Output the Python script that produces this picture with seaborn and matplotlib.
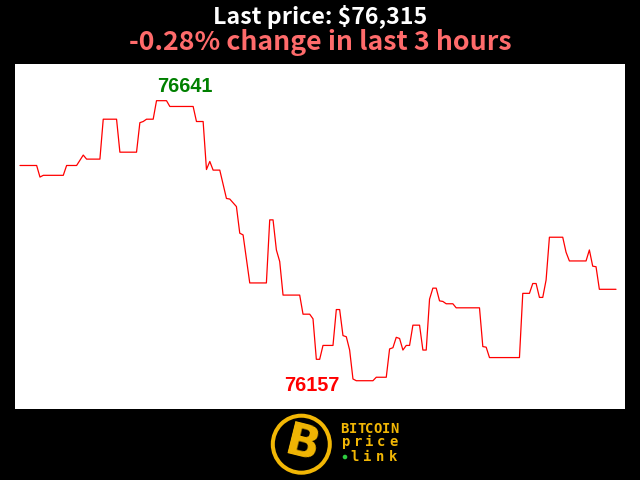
import matplotlib
matplotlib.use("Agg")
import matplotlib.pyplot as plt
from matplotlib.patches import Circle
import numpy as np
import pandas as pd
import seaborn as sns

# ---- data (minutes within the last 3 hours, price in USD) ----
minutes = [0, 5, 6, 7, 13, 14, 17, 19, 20, 24,
           25, 29, 30, 35, 36, 37, 38, 40, 41, 44,
           45, 52, 53, 55, 56, 57, 58, 60, 62, 63,
           65, 66, 67, 69, 74, 75, 76, 77, 78, 79,
           84, 85, 87, 88, 89, 90, 91, 94, 95, 96,
           97, 98, 99, 100, 101, 106, 107, 110, 111, 112,
           113, 114, 115, 116, 117, 118, 120, 121, 122, 123,
           124, 125, 126, 127, 128, 130, 131, 138, 139, 140,
           141, 150, 151, 153, 154, 155, 156, 157, 158, 159,
           163, 164, 165, 170, 171, 172, 173, 174, 179]
prices = [76529, 76529, 76509, 76512, 76512, 76529, 76529, 76547, 76540, 76540,
          76609, 76609, 76552, 76552, 76603, 76605, 76609, 76609, 76641, 76641,
          76631, 76631, 76605, 76605, 76522, 76536, 76521, 76521, 76472, 76471,
          76458, 76412, 76409, 76326, 76326, 76435, 76435, 76383, 76363, 76305,
          76305, 76272, 76272, 76264, 76194, 76194, 76218, 76218, 76280, 76280,
          76235, 76233, 76210, 76160, 76157, 76157, 76163, 76163, 76212, 76214,
          76232, 76230, 76210, 76218, 76218, 76253, 76253, 76210, 76210, 76298,
          76317, 76317, 76295, 76294, 76290, 76290, 76283, 76283, 76216, 76215,
          76197, 76197, 76308, 76308, 76325, 76325, 76301, 76301, 76331, 76405,
          76405, 76379, 76364, 76364, 76383, 76355, 76354, 76315, 76315]
hours = 3
logo_top = "BITCOIN"
logo_mid = "price"
logo_bot = "link"

sns.set_style("white")

GOLD = "#f2b705"
TITLE_FONT = ["Noto Sans CJK SC", "DejaVu Sans"]

fig = plt.figure(figsize=(6.4, 4.8), dpi=100, facecolor="black")
ax = fig.add_axes([15 / 640, 70.7 / 480, 610 / 640, 345.3 / 480])
ax.set_facecolor("white")

df = pd.DataFrame({"minute": minutes, "price": prices})
sns.lineplot(data=df, x="minute", y="price", color="#ff0000", linewidth=0.9, ax=ax)
ax.set_xlim(-1.5, 181.7)
ax.set_ylim(76107.6, 76704.4)
ax.set_xticks([])
ax.set_yticks([])
ax.set_xlabel("")
ax.set_ylabel("")
for s in ax.spines.values():
    s.set_visible(False)

imax = int(np.argmax(prices))
imin = int(np.argmin(prices))
ax.annotate(str(prices[imax]), xy=(minutes[imax], prices[imax]),
            xytext=(0.4, 6.5), textcoords="offset points",
            ha="left", va="baseline", color="#008000", fontsize=14.3,
            fontweight="bold", family="Liberation Sans")
ax.annotate(str(prices[imin]), xy=(minutes[imin], prices[imin]),
            xytext=(-52.3, -7.2), textcoords="offset points",
            ha="left", va="baseline", color="#ff0000", fontsize=14.3,
            fontweight="bold", family="Liberation Sans")

# ---- titles ----
last = prices[-1]
chg = (prices[-1] - prices[0]) / prices[0] * 100
t1 = fig.text(0.5, 1 - 24.3 / 480, f"Last price: ${last:,}", ha="center",
              va="baseline", color="white", fontsize=18, fontweight="bold",
              family=TITLE_FONT)
t2 = fig.text(0.5, 1 - 49.5 / 480, f"{chg:.2f}% change in last {hours} hours",
              ha="center", va="baseline", color="#ff6b6b", fontsize=20,
              fontweight="bold", family=TITLE_FONT)
fig.canvas.draw()
r = fig.canvas.get_renderer()
for t, target in ((t1, 214), (t2, 384)):
    w = t.get_window_extent(r).width
    t.set_fontsize(t.get_fontsize() * target / w)

# ---- logo ----
lax = fig.add_axes([265 / 640, 0, 140 / 640, 70 / 480])
lax.set_xlim(265, 405)
lax.set_ylim(480, 410)
lax.axis("off")
lax.add_patch(Circle((301.3, 444.2), 28.5, fill=False, edgecolor=GOLD, lw=2.9))
lax.text(302.5, 445, "B", ha="center", va="center", color=GOLD,
         fontsize=32, fontweight="heavy", rotation=-14, family="DejaVu Sans")
for word, x0, x1, yb in ((logo_top, 340, 399, 433.3),
                         (logo_mid, 340, 399, 446),
                         (logo_bot, 347.7, 399, 460.7)):
    pitch = (x1 - x0) / len(word)
    for k, ch in enumerate(word):
        lax.text(x0 + pitch * (k + 0.5), yb, ch, ha="center", va="baseline",
                 color=GOLD, fontsize=10, fontweight="bold",
                 family="DejaVu Sans Mono")
lax.add_patch(Circle((345, 457), 1.6, color="#2ecc40"))

fig.savefig("out.png", dpi=100, facecolor="black")
